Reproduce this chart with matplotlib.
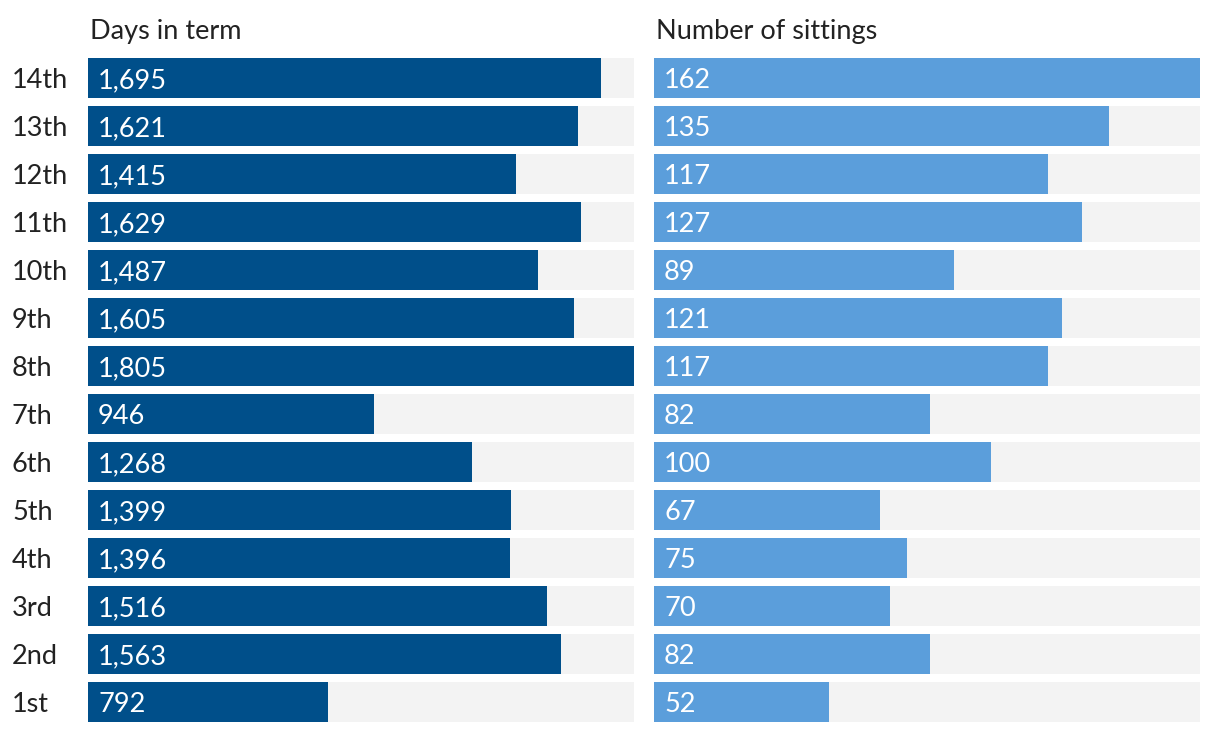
import matplotlib
matplotlib.use("Agg")
import matplotlib.pyplot as plt

terms = ["14th", "13th", "12th", "11th", "10th", "9th", "8th", "7th",
         "6th", "5th", "4th", "3rd", "2nd", "1st"]
days = [1695, 1621, 1415, 1629, 1487, 1605, 1805, 946, 1268, 1399, 1396, 1516, 1563, 792]
sittings = [162, 135, 117, 127, 89, 121, 117, 82, 100, 67, 75, 70, 82, 52]
titles = ["Days in term", "Number of sittings"]

W, H = 1220, 732
fig = plt.figure(figsize=(W / 100, H / 100), dpi=100)
plt.rcParams['font.family'] = ['Lato', 'DejaVu Sans']

n = len(terms)
bh = 40 / 48
ypos = list(range(n))[::-1]
dy = 2.5 / 48

def make_ax(x0, vals, color, title, show_labels):
    ax = fig.add_axes([x0 / W, (H - 722) / H, 546 / W, 664 / H])
    vmax = max(vals)
    ax.barh(ypos, [vmax] * n, height=bh, color="#f3f3f3", linewidth=0)
    ax.barh(ypos, vals, height=bh, color=color, linewidth=0)
    ax.set_xlim(0, vmax)
    ax.set_ylim(-0.5 + (1 - bh) / 2, n - 0.5 - (1 - bh) / 2)
    ax.axis("off")
    for y, v in zip(ypos, vals):
        ax.text(vmax * 10 / 546, y - dy, f"{v:,}", color="white", fontsize=19.5,
                va="center", ha="left")
    ax.text(2 / 546, 1 + 26 / 664, title, transform=ax.transAxes,
            fontsize=19.5, color="#222222", va="center", ha="left")
    if show_labels:
        for y, t in zip(ypos, terms):
            ax.text(-76 / 546 * vmax, y - dy, t, fontsize=19.5, color="#222222",
                    va="center", ha="left")
    return ax

make_ax(88, days, "#004f8a", titles[0], True)
make_ax(654, sittings, "#5b9edb", titles[1], False)

fig.savefig("out.png", dpi=100)
